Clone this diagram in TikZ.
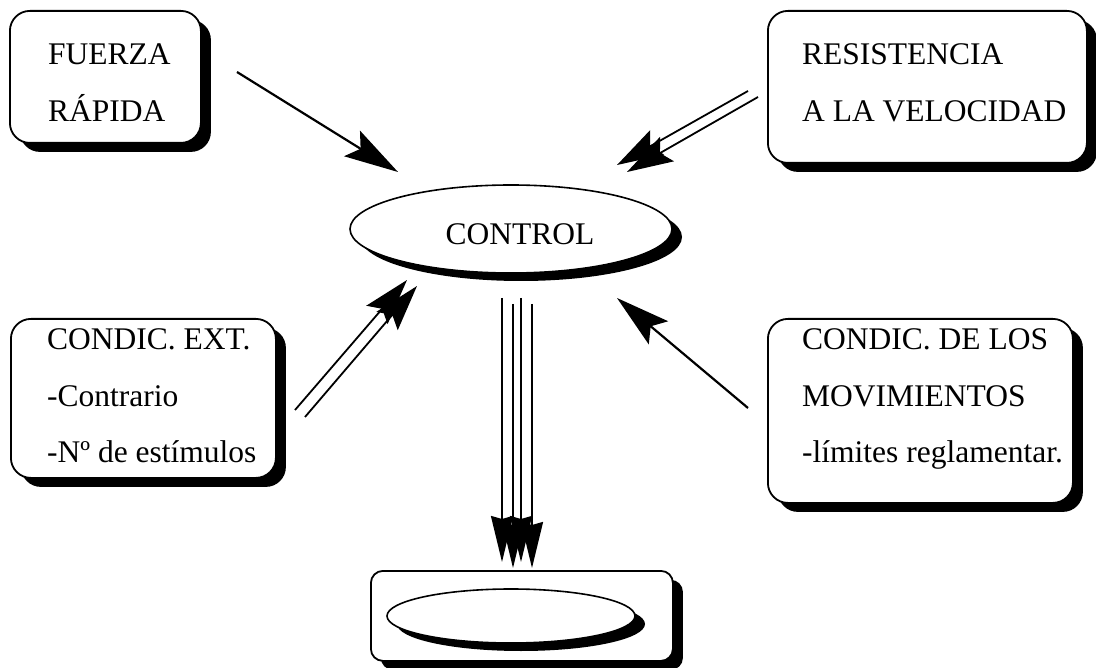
\documentclass[tikz,border=0pt]{standalone}
\usepackage{fontspec}
\setmainfont{Liberation Serif}
\usetikzlibrary{arrows.meta,shapes.geometric,shadows}
\begin{document}
\begin{tikzpicture}[x=1pt,y=-1pt,
  sh/.style={drop shadow={shadow xshift=10pt,shadow yshift=-9pt,opacity=1,fill=black}},
  box/.style={draw, line width=1.8pt, fill=white, rounded corners=20pt, anchor=north west, sh},
  oval/.style={draw, ellipse, line width=1.6pt, fill=white, inner sep=0pt,
    drop shadow={shadow xshift=10pt,shadow yshift=-8pt,opacity=1,fill=black}},
  txt/.style={font=\fontsize{31.5}{57}\selectfont, align=left, anchor=base west, inner sep=0pt},
  arr/.style={line width=2.2pt, -{Stealth[length=54pt,width=30pt,inset=10pt]}},
  darr/.style={line width=1.8pt, -{Stealth[length=46pt,width=28pt,inset=8pt]}},
  varr/.style={line width=1.8pt, -{Stealth[length=46pt,width=22pt,inset=3pt]}},
]
\fill[white] (0,0) rectangle (1096,668);
\useasboundingbox (0,0) rectangle (1096,668);

% boxes
\node[box, minimum width=191pt, minimum height=132pt] (fuerza) at (9,10) {};
\node[box, minimum width=319pt, minimum height=152pt] (resist) at (767,10) {};
\node[box, minimum width=265pt, minimum height=159pt] (condext) at (10,318) {};
\node[box, minimum width=305pt, minimum height=184pt] (condmov) at (767,318) {};
\node[box, rounded corners=12pt, minimum width=302pt, minimum height=90pt] (bottom) at (370,570) {};

% ellipses
\node[oval, minimum width=322pt, minimum height=88pt] (control) at (511,229) {};
\node[oval, minimum width=248pt, minimum height=54pt] (inner) at (511,616) {};

% texts (anchor = baseline of last line)
\node[txt] (fuerzaT) at (48,122) {FUERZA\\RÁPIDA};
\node[txt] (resistT) at (802,122) {RESISTENCIA\\A LA VELOCIDAD};
\node[txt] (condextT) at (47,463) {CONDIC. EXT.\\-Contrario\\-Nº de estímulos};
\node[txt] (condmovT) at (802,463) {CONDIC. DE LOS\\MOVIMIENTOS\\-límites reglamentar.};
\node[font=\fontsize{31.5}{36}\selectfont, anchor=base, inner sep=0pt] (controlT) at (520,245) {CONTROL};

% arrow endpoints
\coordinate (f1) at (237,72);  \coordinate (f2) at (398,172);
\coordinate (r1) at (748,91);  \coordinate (r2) at (617,165);
\coordinate (r3) at (758,97);  \coordinate (r4) at (627,172);
\coordinate (e1) at (295,410); \coordinate (e2) at (407,280);
\coordinate (e3) at (305,417); \coordinate (e4) at (417,286);
\coordinate (m1) at (748,408); \coordinate (m2) at (617,298);
\coordinate (v1) at (502,298); \coordinate (v2) at (502,562);
\coordinate (v3) at (513,304); \coordinate (v4) at (513,568);
\coordinate (v5) at (521,298); \coordinate (v6) at (521,562);
\coordinate (v7) at (532,304); \coordinate (v8) at (532,568);

\draw[arr] (f1) -- (f2);
\draw[darr] (r1) -- (r2);
\draw[darr] (r3) -- (r4);
\draw[darr] (e1) -- (e2);
\draw[darr] (e3) -- (e4);
\draw[arr] (m1) -- (m2);
\draw[varr] (v1) -- (v2);
\draw[varr] (v3) -- (v4);
\draw[varr] (v5) -- (v6);
\draw[varr] (v7) -- (v8);
\end{tikzpicture}
\end{document}
